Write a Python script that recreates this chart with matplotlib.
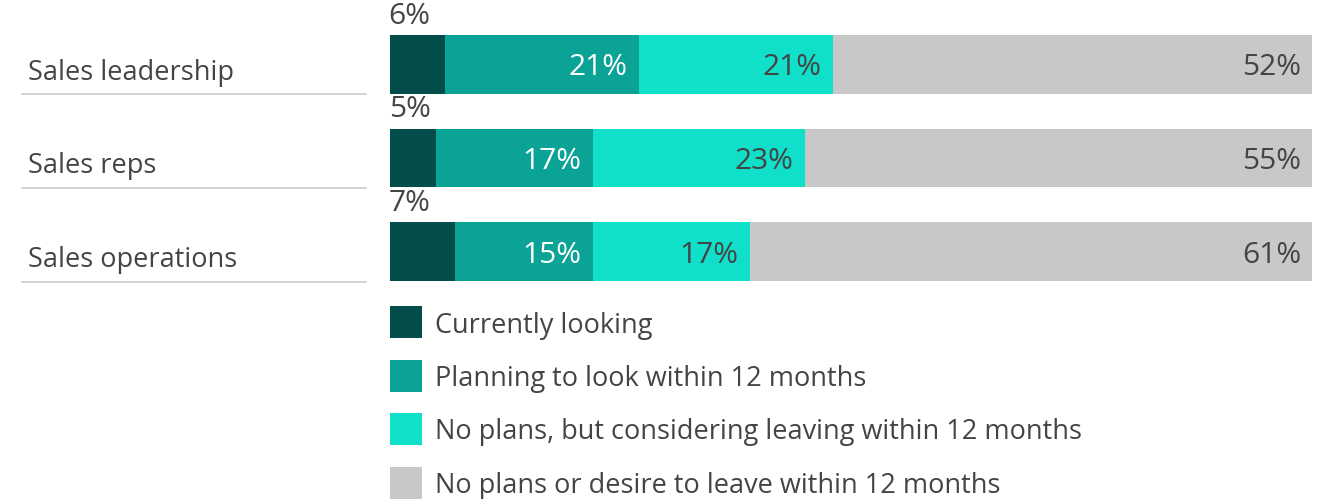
import matplotlib
matplotlib.use("Agg")
import matplotlib.pyplot as plt
from matplotlib.patches import Rectangle
from matplotlib.lines import Line2D

categories = ["Sales leadership", "Sales reps", "Sales operations"]
series_names = [
    "Currently looking",
    "Planning to look within 12 months",
    "No plans, but considering leaving within 12 months",
    "No plans or desire to leave within 12 months",
]
currently_looking = [6, 5, 7]
planning_to_look = [21, 17, 15]
considering_leaving = [21, 23, 17]
no_plans = [52, 55, 61]

colors = ["#034e4b", "#0ba396", "#10dfc9", "#c8c8c8"]
label_colors = [None, "white", "#444444", "#444444"]
text_color = "#444444"
FONT = ["Open Sans", "DejaVu Sans"]
FS = 19.5
FS_PCT = 21.5

W, H = 1319, 499
fig = plt.figure(figsize=(W / 100, H / 100), dpi=100)

def fx(px):
    return px / W

def fy(py):
    return 1 - py / H

# bar axes: x 390..1312 px, y 35..281 px
ax = fig.add_axes([fx(390), fy(281), fx(1312) - fx(390), fy(35) - fy(281)])
bar_h = 0.63
ax.set_xlim(0, 100)
ax.set_ylim(2 + bar_h / 2, -bar_h / 2)
ax.axis("off")

series = [currently_looking, planning_to_look, considering_leaving, no_plans]
ypos = list(range(len(categories)))
left = [0] * len(categories)
for si, vals in enumerate(series):
    ax.barh(ypos, vals, left=left, height=bar_h, color=colors[si],
            edgecolor="none", label=series_names[si])
    for i, v in enumerate(vals):
        if si == 0:
            ax.annotate(f"{v}%", xy=(0, i - bar_h / 2), xytext=(-1, 3),
                        textcoords="offset points", ha="left", va="bottom",
                        fontsize=FS_PCT, color=text_color, family=FONT)
        else:
            ax.annotate(f"{v}%", xy=(left[i] + v, i), xytext=(-8, 0),
                        textcoords="offset points", ha="right",
                        va="center_baseline", fontsize=FS_PCT,
                        color=label_colors[si], family=FONT)
    left = [l + v for l, v in zip(left, vals)]

fig.canvas.draw()
# category labels with underline
for i, cat in enumerate(categories):
    ybot = ax.transData.transform((0, i + bar_h / 2))[1]
    yb = fig.transFigure.inverted().transform((0, ybot))[1]
    fig.text(fx(28), yb + 14 / H, cat, ha="left", va="baseline",
             fontsize=FS, color=text_color, family=FONT)
    fig.add_artist(Line2D([fx(22), fx(366)], [yb - 0.5 / H, yb - 0.5 / H],
                          color="#cccccc", lw=1.2, transform=fig.transFigure))

# legend
leg_top = 306
sq = 32
gap = 53.5
for si, name in enumerate(series_names):
    y0 = leg_top + si * gap
    fig.add_artist(Rectangle((fx(390), fy(y0 + sq)), fx(390 + sq) - fx(390),
                             fy(y0) - fy(y0 + sq), facecolor=colors[si],
                             edgecolor="none", transform=fig.transFigure))
    fig.text(fx(435), fy(y0 + sq / 2), name, ha="left", va="center_baseline",
             fontsize=FS, color=text_color, family=FONT)

fig.savefig("out.png", dpi=100, facecolor="white")
